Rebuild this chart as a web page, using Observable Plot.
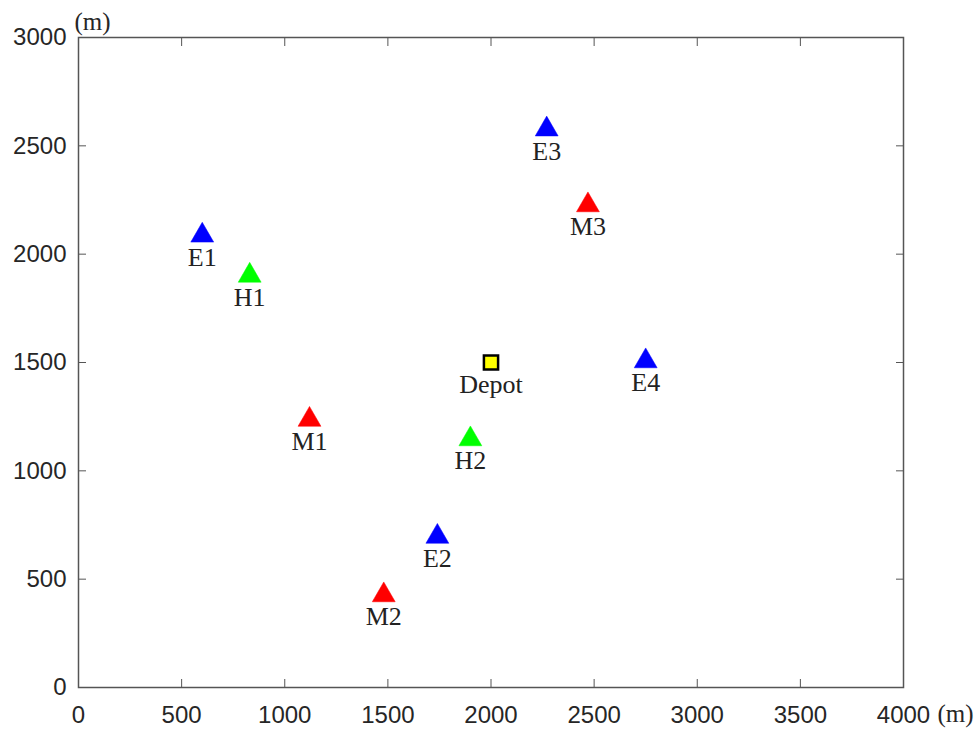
<!DOCTYPE html>
<html>
<head>
<meta charset="utf-8">
<script src="https://cdn.jsdelivr.net/npm/d3@7"></script>
<script src="https://cdn.jsdelivr.net/npm/@observablehq/plot@0.6"></script>
<style>
  html, body { margin: 0; padding: 0; background: #fff; }
</style>
</head>
<body>
<div id="chart"></div>
<script>
const names = ["E1", "H1", "E3", "M3", "E4", "M1", "H2", "E2", "M2"];
const xs    = [600, 830, 2270, 2470, 2750, 1120, 1900, 1740, 1480];
const ys    = [2100, 1915, 2590, 2240, 1520, 1250, 1160, 710, 440];
const types = ["E", "H", "E", "M", "E", "M", "H", "E", "M"];
const depotName = ["Depot"];
const depotX = [2000];
const depotY = [1500];
const xTicks = [0, 500, 1000, 1500, 2000, 2500, 3000, 3500, 4000];
const yTicks = [0, 500, 1000, 1500, 2000, 2500, 3000];
const unitLabel = "(m)";

const nodes = names.map((n, i) => ({name: n, x: xs[i], y: ys[i], type: types[i]}));
const depot = depotName.map((n, i) => ({name: n, x: depotX[i], y: depotY[i]}));

const serif = "'Liberation Serif', 'Times New Roman', serif";
const axisColor = "#555";
const fmt = d3.format("d");

const chart = Plot.plot({
  width: 978,
  height: 731,
  marginLeft: 78,
  marginTop: 37,
  marginRight: 75,
  marginBottom: 44,
  style: {fontFamily: "'Liberation Sans', Arial, sans-serif", fontSize: "24px", color: "#262626", background: "#fff"},
  x: {domain: [0, 4000]},
  y: {domain: [0, 3000]},
  color: {domain: ["E", "H", "M"], range: ["#0000ff", "#00ff00", "#ff0000"]},
  marks: [
    Plot.frame({stroke: axisColor, strokeWidth: 1.5}),
    // tick labels
    Plot.axisX({ticks: xTicks, tickSize: 0, tickPadding: 18, tickFormat: fmt, label: null, fontSize: 24, fill: "#262626"}),
    Plot.axisY({ticks: yTicks, tickSize: 0, tickPadding: 12, tickFormat: fmt, label: null, fontSize: 24, fill: "#262626"}),
    // inward ticks on all four sides
    Plot.axisX({ticks: xTicks, anchor: "bottom", tickSize: -8, tickFormat: () => "", label: null, stroke: axisColor}),
    Plot.axisX({ticks: xTicks, anchor: "top", tickSize: -8, tickFormat: () => "", label: null, stroke: axisColor}),
    Plot.axisY({ticks: yTicks, anchor: "left", tickSize: -8, tickFormat: () => "", label: null, stroke: axisColor}),
    Plot.axisY({ticks: yTicks, anchor: "right", tickSize: -8, tickFormat: () => "", label: null, stroke: axisColor}),
    // unit labels
    Plot.text([unitLabel], {frameAnchor: "top-left", dx: -4, dy: -25, fontFamily: serif, fontSize: 25, fill: "#262626"}),
    Plot.text([unitLabel], {frameAnchor: "bottom-right", dx: 70, dy: 34, fontFamily: serif, fontSize: 25, fill: "#262626"}),
    // nodes
    Plot.dot(nodes, {x: "x", y: "y", symbol: "triangle", r: 8.5, fill: "type", stroke: "type", strokeWidth: 0.5, dy: 3}),
    Plot.text(nodes, {x: "x", y: "y", text: "name", dy: 25, fontFamily: serif, fontSize: 26, fill: "#222"}),
    // depot
    Plot.dot(depot, {x: "x", y: "y", symbol: "square", r: 8, fill: "#ffff00", stroke: "#000", strokeWidth: 2.5}),
    Plot.text(depot, {x: "x", y: "y", text: "name", dy: 22, fontFamily: serif, fontSize: 26, fill: "#222"})
  ]
});
document.getElementById("chart").appendChild(chart);
</script>
</body>
</html>
